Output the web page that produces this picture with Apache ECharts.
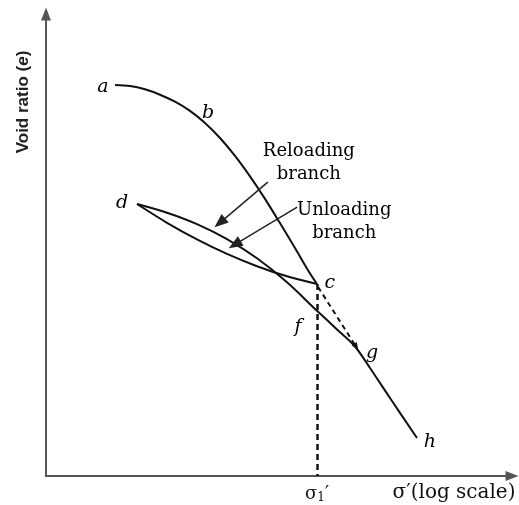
<!DOCTYPE html>
<html>
<head>
<meta charset="utf-8">
<script src="https://cdn.jsdelivr.net/npm/echarts@6/dist/echarts.min.js"></script>
<style>
html,body{margin:0;padding:0;background:#fff;}
#chart{width:519px;height:505px;}
</style>
</head>
<body>
<div id="chart"></div>
<script>
// ---- data (schematic units: x = log σ′, y = void ratio e) ----
var virginCurve = [[14.81,84.63],[18.03,84.42],[21.24,83.70],[24.46,82.53],[27.68,81.02],[30.90,79.03],[34.12,76.41],[37.34,73.16],[40.56,69.29],[43.78,64.85],[47.00,59.98],[50.21,54.74],[53.43,49.33],[56.65,43.81],[58.15,41.56]];
var unloadingCurve = [[58.15,41.56],[51.72,43.22],[45.28,45.41],[38.84,48.07],[32.40,51.21],[25.97,54.81],[19.53,58.87]];
var reloadingCurve = [[19.53,58.87],[25.97,56.99],[32.40,54.52],[38.84,51.28],[45.28,47.12],[51.72,41.93],[58.15,35.76],[62.45,31.73],[66.31,28.03],[69.53,23.38],[73.82,16.88],[79.61,8.23]];
var sigma1 = 58.15;
var pointC = [58.15,41.56];
var dashedCG = [[58.4,40.9],[66.6,27.9]];
var reloadArrow = [[47.6,63.6],[37.3,54.8]];
var unloadArrow = [[53.9,58.2],[40.5,50.1]];
var pointLabels = [[12.2,84.2,'a'],[34.8,78.6,'b'],[60.9,41.8,'c'],[16.3,59.1,'d'],[54.1,32.3,'f'],[70.0,26.6,'g'],[82.4,7.4,'h']];
var textLabels = [[56.4,67.8,'Reloading\nbranch'],[64.0,55.0,'Unloading\nbranch']];
var xAxisTitle = 'σ′(log scale)';
var yAxisTitle = 'Void ratio (e)';

var chart = echarts.init(document.getElementById('chart'), null, {renderer:'canvas'});
var serif = 'DejaVu Serif';
var curveStyle = {color:'#111', width:2};

chart.setOption({
  animation:false,
  backgroundColor:'#fff',
  grid:{left:46, right:7, top:14, bottom:29},
  xAxis:{
    type:'value', min:0, max:100,
    splitLine:{show:false}, axisTick:{show:false},
    axisLine:{lineStyle:{color:'#555', width:2}, symbol:['none','triangle'], symbolSize:[10,13]},
    axisLabel:{
      customValues:[sigma1], margin:8,
      formatter:function(){ return '{s|σ}{sub|1}{s|′}'; },
      rich:{s:{fontFamily:serif, fontSize:18, color:'#111'}, sub:{fontFamily:serif, fontSize:12, color:'#111', verticalAlign:'bottom', padding:[8,0,0,0]}}
    }
  },
  yAxis:{
    type:'value', min:0, max:100,
    splitLine:{show:false}, axisTick:{show:false}, axisLabel:{show:false},
    axisLine:{lineStyle:{color:'#555', width:2}, symbol:['none','triangle'], symbolSize:[10,13]}
  },
  graphic:[
    {type:'text', x:23, y:102, rotation:Math.PI/2, style:{
      text:'{n|Void ratio (}{i|e}{n|)}', align:'center', verticalAlign:'middle',
      rich:{n:{fontFamily:'Liberation Sans', fontWeight:'bold', fontSize:17, fill:'#222'}, i:{fontFamily:'Liberation Sans', fontWeight:'bold', fontStyle:'italic', fontSize:17, fill:'#222'}}
    }},
    {type:'text', x:454, y:493, style:{text:xAxisTitle, align:'center', verticalAlign:'middle', font:'20px "DejaVu Serif"', fill:'#111'}}
  ],
  series:[
    {type:'line', data:virginCurve, symbol:'none', smooth:0.3, lineStyle:curveStyle, silent:true},
    {type:'line', data:unloadingCurve, symbol:'none', smooth:0.3, lineStyle:curveStyle, silent:true},
    {type:'line', data:reloadingCurve, symbol:'none', smooth:0.3, lineStyle:curveStyle, silent:true,
      markLine:{
        silent:true, animation:false, label:{show:false},
        data:[
          [{coord:[sigma1,pointC[1]], symbol:'none', lineStyle:{type:[6,4], color:'#111', width:2.5}}, {coord:[sigma1,0], symbol:'none'}],
          [{coord:dashedCG[0], symbol:'none', lineStyle:{type:[5,4], color:'#111', width:2}}, {coord:dashedCG[1], symbol:'triangle', symbolSize:[6,8]}],
          [{coord:reloadArrow[0], symbol:'none', lineStyle:{type:'solid', color:'#222', width:1.5}}, {coord:reloadArrow[1], symbol:'triangle', symbolSize:[11,14]}],
          [{coord:unloadArrow[0], symbol:'none', lineStyle:{type:'solid', color:'#222', width:1.5}}, {coord:unloadArrow[1], symbol:'triangle', symbolSize:[11,14]}]
        ]
      }
    },
    {type:'scatter', data:pointLabels, symbolSize:0, itemStyle:{color:'rgba(0,0,0,0)', opacity:1}, silent:true,
      label:{show:true, position:'inside', formatter:function(p){return p.value[2];}, fontFamily:serif, fontStyle:'italic', fontSize:19, color:'#000'}},
    {type:'scatter', data:textLabels, symbolSize:0, itemStyle:{color:'rgba(0,0,0,0)', opacity:1}, silent:true,
      label:{show:true, position:'inside', formatter:function(p){return p.value[2];}, fontFamily:serif, fontSize:18, lineHeight:23, align:'center', color:'#000'}}
  ]
});
</script>
</body>
</html>
